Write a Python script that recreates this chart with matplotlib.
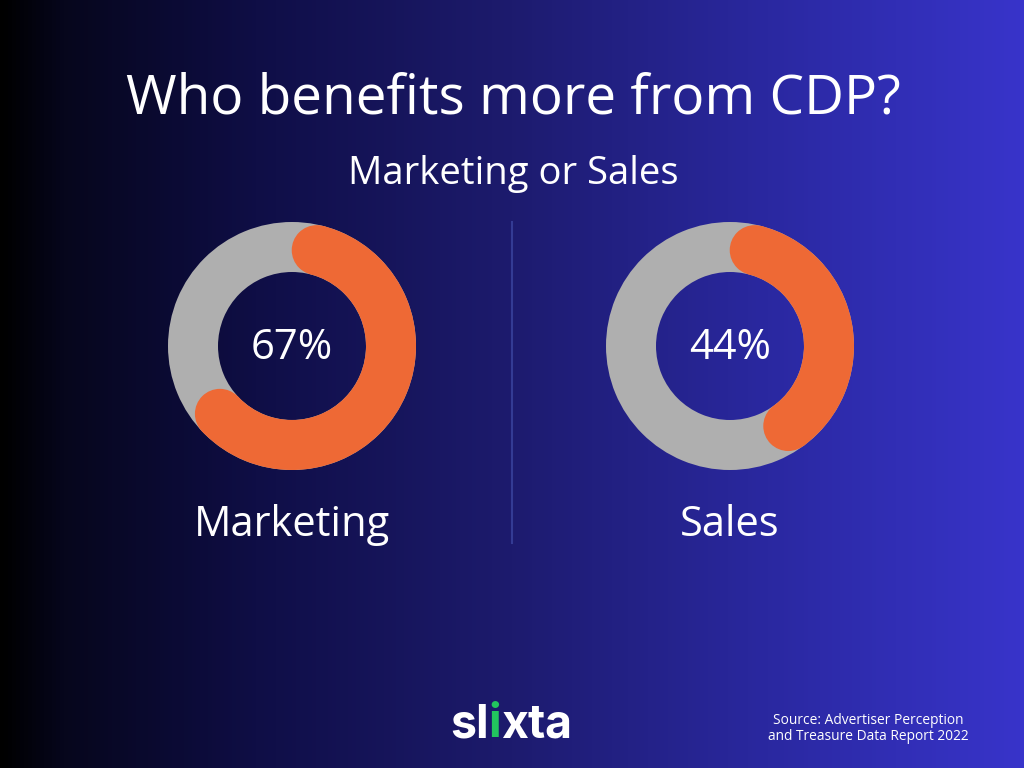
import numpy as np
import matplotlib
matplotlib.use("Agg")
import matplotlib.pyplot as plt
from matplotlib.patches import Wedge, Circle
from matplotlib.colors import LinearSegmentedColormap

# ---- data ----
title = "Who benefits more from CDP?"
subtitle = "Marketing or Sales"
categories = ["Marketing", "Sales"]
values = [67, 44]
source_lines = ["Source: Advertiser Perception", "and Treasure Data Report 2022"]

W, H = 1024, 768
fig = plt.figure(figsize=(W / 100, H / 100), dpi=100)
ax = fig.add_axes([0, 0, 1, 1])
ax.set_xlim(0, W)
ax.set_ylim(H, 0)
ax.axis("off")

# background gradient (horizontal)
stops = [(0.0, "#000000"), (0.06, "#06061c"), (0.25, "#0f0e46"),
         (0.5, "#1d1b6e"), (0.75, "#2a28a0"), (1.0, "#3834ca")]
cmap = LinearSegmentedColormap.from_list("bg", stops)
grad = np.linspace(0, 1, 512).reshape(1, -1)
ax.imshow(grad, cmap=cmap, extent=[0, W, H, 0], aspect="auto", zorder=0)

FONT = "Open Sans"
ax.text(513, 99, title, color="white", fontsize=39.5, ha="center", va="center",
        family=FONT, zorder=5)
ax.text(513, 174, subtitle, color="white", fontsize=27.5, ha="center", va="center",
        family=FONT, fontweight="medium", zorder=5)

# divider
ax.plot([512, 512], [222, 543], color="#343b94", lw=1.5, zorder=2)

centers = [(292, 346), (730, 346)]
R_out, ring_w = 124, 50
rc = R_out - ring_w / 2
cap_deg = np.degrees((ring_w / 2) / rc)
orange = "#ee6935"
gray = "#afafaf"

for (cx, cy), val, cat in zip(centers, values, categories):
    ax.add_patch(Wedge((cx, cy), R_out, 0, 360, width=ring_w, facecolor=gray,
                       edgecolor="none", zorder=3))
    span = 360 * val / 100
    a1 = 90 - cap_deg                # screen angle of start cap centre
    a2 = 90 - span + cap_deg         # screen angle of end cap centre
    ax.add_patch(Wedge((cx, cy), R_out, -a1, -a2, width=ring_w, facecolor=orange,
                       edgecolor="none", zorder=4))
    for a in (a1, a2):
        r = np.radians(a)
        ax.add_patch(Circle((cx + rc * np.cos(r), cy - rc * np.sin(r)), ring_w / 2,
                            facecolor=orange, edgecolor="none", zorder=4))
    ax.text(cx, cy + 2, f"{val}%", color="white", fontsize=30, ha="center",
            va="center", family=FONT, fontweight="medium", zorder=5)
    ax.text(cx, 525, cat, color="white", fontsize=30, ha="center", va="center",
            family=FONT, fontweight="medium", zorder=5)

# logo "slixta" with green i
renderer = fig.canvas.get_renderer()
parts = [("sl", "white"), ("i", "#22c55e"), ("xta", "white")]
texts = []
for s, c in parts:
    t = ax.text(0, 725, s, color=c, fontsize=33.5, fontweight="bold", family="Inter",
                ha="left", va="center", zorder=5)
    texts.append(t)
widths = [t.get_window_extent(renderer).width for t in texts]
total = sum(widths)
x0 = 511 - total / 2
for t, w in zip(texts, widths):
    t.set_x(x0)
    x0 += w

for i, line in enumerate(source_lines):
    ax.text(868, 720 + i * 17, line, color="white", fontsize=9.9, ha="center",
            va="center", family=FONT, fontweight="medium", zorder=5)

fig.savefig("out.png", dpi=100)
